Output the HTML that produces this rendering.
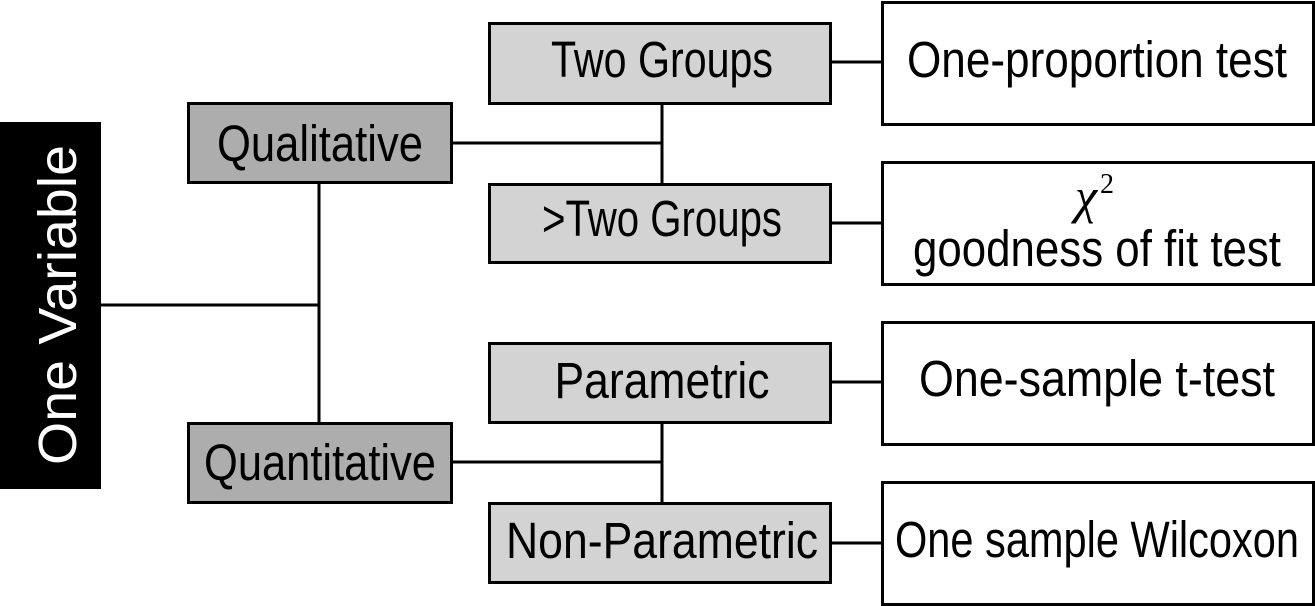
<!DOCTYPE html>
<html><head><style>html,body{margin:0;padding:0;background:#fff;width:1315px;height:606px;overflow:hidden}</style></head>
<body>
<svg width="1315" height="606" xmlns="http://www.w3.org/2000/svg" font-family="Liberation Sans, sans-serif">
<g stroke="#000" stroke-width="3" fill="none">
<line x1="100" y1="305" x2="319" y2="305"/>
<line x1="319" y1="183" x2="319" y2="425"/>
<line x1="452" y1="143" x2="662" y2="143"/>
<line x1="662" y1="103" x2="662" y2="184"/>
<line x1="452" y1="462" x2="662" y2="462"/>
<line x1="662" y1="422" x2="662" y2="505"/>
<line x1="830" y1="62" x2="882" y2="62"/>
<line x1="830" y1="223" x2="882" y2="223"/>
<line x1="830" y1="382" x2="882" y2="382"/>
<line x1="830" y1="543" x2="882" y2="543"/>
</g>
<rect x="0" y="122" width="101" height="367" fill="#000"/>
<text transform="translate(76,305) rotate(-90)" text-anchor="middle" font-size="54" fill="#fff" textLength="320" lengthAdjust="spacingAndGlyphs">One Variable</text>
<g stroke="#000" stroke-width="3">
<rect x="188.5" y="103.5" width="263" height="79" fill="#adadad"/>
<rect x="188.5" y="423.5" width="263" height="79" fill="#adadad"/>
<rect x="489.5" y="23.5" width="341" height="80" fill="#d3d3d3"/>
<rect x="489.5" y="184.5" width="341" height="78" fill="#d3d3d3"/>
<rect x="489.5" y="343.5" width="341" height="79" fill="#d3d3d3"/>
<rect x="489.5" y="503.5" width="341" height="79" fill="#d3d3d3"/>
<rect x="882.5" y="2.5" width="431" height="122" fill="#fff"/>
<rect x="882.5" y="162.5" width="431" height="122" fill="#fff"/>
<rect x="882.5" y="322.5" width="431" height="122" fill="#fff"/>
<rect x="882.5" y="482.5" width="431" height="122" fill="#fff"/>
</g>
<g font-size="51" text-anchor="middle" fill="#000">
<text x="320" y="161" textLength="206" lengthAdjust="spacingAndGlyphs">Qualitative</text>
<text x="320" y="480" textLength="232" lengthAdjust="spacingAndGlyphs">Quantitative</text>
<text x="662" y="77" textLength="222" lengthAdjust="spacingAndGlyphs">Two Groups</text>
<text x="662" y="236" textLength="240" lengthAdjust="spacingAndGlyphs">&gt;Two Groups</text>
<text x="662" y="398" textLength="215" lengthAdjust="spacingAndGlyphs">Parametric</text>
<text x="662" y="558" textLength="312" lengthAdjust="spacingAndGlyphs">Non-Parametric</text>
<text x="1097" y="77" textLength="380" lengthAdjust="spacingAndGlyphs">One-proportion test</text>
<text x="1097" y="266" textLength="368" lengthAdjust="spacingAndGlyphs">goodness of fit test</text>
<text x="1097" y="396" textLength="356" lengthAdjust="spacingAndGlyphs">One-sample t-test</text>
<text x="1097" y="557" textLength="404" lengthAdjust="spacingAndGlyphs">One sample Wilcoxon</text>
</g>
<text x="1086" y="213" font-family="Liberation Serif, serif" font-style="italic" font-size="50" text-anchor="middle">χ</text>
<text x="1100" y="193" font-family="Liberation Serif, serif" font-size="28">2</text>
</svg>
</body></html>
